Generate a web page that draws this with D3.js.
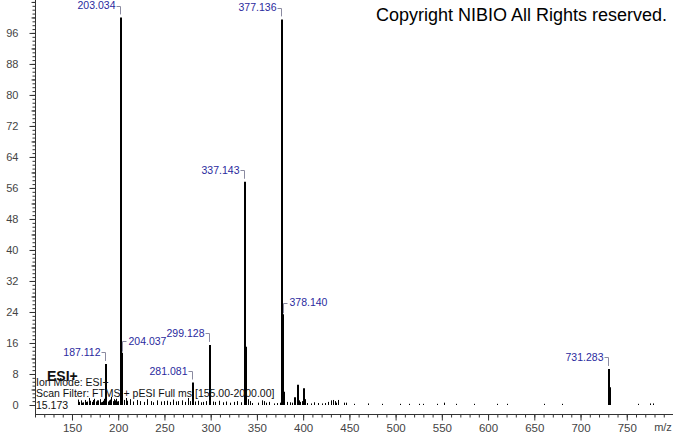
<!DOCTYPE html>
<html>
<head>
<meta charset="utf-8">
<script src="https://cdn.jsdelivr.net/npm/d3@7"></script>
<style>
  html, body { margin: 0; padding: 0; background: #fff; }
  svg { display: block; font-family: "Liberation Sans", Arial, sans-serif; }
</style>
</head>
<body>
<svg id="chart" width="673" height="433"></svg>
<script>
// ---- data ----
const peakMz   = [187.112, 203.034, 204.037, 281.081, 299.128, 337.143, 338.146, 377.136, 378.140, 379.14, 391.5, 394.1, 401.3, 731.283, 732.28];
const peakInt  = [10.6,    100,     13.5,    5.8,     15.5,    57.6,    15.0,    99.5,    23.4,    3.4,    2.0,   5.2,   4.3,   9.3,     4.6];
const labelMz   = [187.112, 203.034, 204.037, 281.081, 299.128, 337.143, 377.136, 378.140, 731.283];
const labelText = ["187.112", "203.034", "204.037", "281.081", "299.128", "337.143", "377.136", "378.140", "731.283"];
const labelSide = ["left", "left", "right", "left", "left", "left", "left", "right", "left"];
const noiseMz  = [156, 157, 158, 160, 161, 162, 164, 165, 166, 168, 169, 170, 172, 173, 174, 176, 177, 178, 180, 181, 182, 184, 185, 186, 189, 190, 191, 192, 194, 195, 196, 198, 199, 200, 206, 208, 210, 213, 216, 220, 224, 228, 231, 235, 238, 242, 246, 250, 253, 256, 259, 262, 265, 269, 272, 275, 278, 283, 286, 289, 292, 295, 302, 305, 309, 313, 317, 321, 325, 329, 333, 340, 343, 345, 351, 356, 358, 360, 363, 368, 372, 375, 383, 386, 388, 390, 395, 397, 399, 402, 404, 408, 412, 416, 420, 424, 427, 430, 432, 434, 436, 438, 444, 446, 455, 470, 485, 505, 515, 525, 530, 545, 552, 565, 585, 610, 620, 660, 680, 762, 775, 778];
const noiseInt = [1.0, 1.4, 0.8, 1.2, 0.6, 0.7, 1.3, 0.8, 0.9, 1.8, 1.0, 1.1, 0.8, 1.3, 1.6, 0.9, 1.2, 1.2, 1.5, 0.7, 0.8, 1.1, 1.6, 1.3, 0.9, 1.2, 1.4, 2.1, 1.0, 1.5, 1.2, 1.6, 0.9, 1.0, 1.3, 1.8, 1.1, 1.5, 0.9, 1.3, 1.0, 0.8, 1.5, 1.0, 0.7, 1.2, 0.9, 1.0, 1.1, 0.8, 1.4, 0.9, 1.0, 1.2, 0.8, 1.8, 1.0, 0.9, 1.1, 0.7, 0.8, 1.0, 0.9, 0.8, 1.1, 0.7, 0.9, 0.6, 0.8, 1.0, 0.7, 1.5, 1.0, 0.5, 0.6, 1.2, 1.0, 0.6, 0.8, 0.4, 0.5, 0.6, 0.8, 0.7, 0.6, 0.8, 1.2, 0.8, 1.0, 1.5, 0.5, 0.4, 0.7, 0.5, 0.4, 0.5, 0.8, 1.2, 1.3, 1.0, 0.6, 1.3, 0.6, 0.6, 0.3, 0.4, 0.3, 0.3, 0.3, 0.3, 0.3, 0.3, 0.6, 0.3, 0.3, 0.3, 0.3, 0.3, 0.3, 0.3, 0.4, 0.4];
const yTickLabels = [0, 8, 16, 24, 32, 40, 48, 56, 64, 72, 80, 88, 96];
const xTickLabels = [150, 200, 250, 300, 350, 400, 450, 500, 550, 600, 650, 700, 750];
const infoLines = ["Ion Mode: ESI+", "Scan Filter: FTMS + pESI Full ms [155.00-2000.00]", "15.173"];
const modeTitle = "ESI+";
const copyright = "Copyright NIBIO All Rights reserved.";
const xUnit = "m/z";

// ---- layout ----
const svg = d3.select("#chart");
const x = d3.scaleLinear().domain([110, 800]).range([35, 673]);
const y = d3.scaleLinear().domain([0, 104.5]).range([405, 0]);
const axisY = 414;
const axisColor = "#333";
const labelColor = "#2a2a9e";
const bracketColor = "#8a8aa0";

// y axis minor ticks
const yMinor = d3.axisLeft(y).tickValues(d3.range(0, 105, 1)).tickSize(3).tickFormat("");
svg.append("g").attr("transform", "translate(35.5,0)").call(yMinor)
  .call(g => g.select(".domain").remove())
  .call(g => g.selectAll("line").attr("stroke", axisColor));
const yMid = d3.axisLeft(y).tickValues(d3.range(0, 105, 4)).tickSize(4).tickFormat("");
svg.append("g").attr("transform", "translate(35.5,0)").call(yMid)
  .call(g => g.select(".domain").remove())
  .call(g => g.selectAll("line").attr("stroke", axisColor));
const yMajor = d3.axisLeft(y).tickValues(yTickLabels).tickSize(6).tickPadding(11);
svg.append("g").attr("transform", "translate(35.5,0)").call(yMajor)
  .call(g => g.select(".domain").remove())
  .call(g => g.selectAll("line").attr("stroke", axisColor))
  .call(g => g.selectAll("text").attr("fill", "#444").attr("font-size", "11px")
      .attr("font-family", "Liberation Sans, Arial, sans-serif"));
svg.append("line").attr("x1", 35.5).attr("x2", 35.5).attr("y1", 0).attr("y2", axisY + 0.5)
  .attr("stroke", axisColor);

// x axis
const xMinor = d3.axisBottom(x).tickValues(d3.range(110, 801, 10)).tickSize(3).tickFormat("");
svg.append("g").attr("transform", `translate(0,${axisY + 0.5})`).call(xMinor)
  .call(g => g.select(".domain").remove())
  .call(g => g.selectAll("line").attr("stroke", axisColor));
const xMajor = d3.axisBottom(x).tickValues(xTickLabels).tickSize(6).tickPadding(3);
svg.append("g").attr("transform", `translate(0,${axisY + 0.5})`).call(xMajor)
  .call(g => g.select(".domain").remove())
  .call(g => g.selectAll("line").attr("stroke", axisColor))
  .call(g => g.selectAll("text").attr("fill", "#444").attr("font-size", "11.5px")
      .attr("font-family", "Liberation Sans, Arial, sans-serif"));
svg.append("line").attr("x1", 35).attr("x2", 673).attr("y1", axisY + 0.5).attr("y2", axisY + 0.5)
  .attr("stroke", axisColor);
svg.append("text").attr("x", 663).attr("y", 431).attr("text-anchor", "middle")
  .attr("font-size", "11px").attr("fill", "#444").text(xUnit);

// noise sticks
svg.append("g").selectAll("line").data(noiseMz).join("line")
  .attr("x1", d => Math.round(x(d)) + 0.5).attr("x2", d => Math.round(x(d)) + 0.5)
  .attr("y1", y(0)).attr("y2", (d, i) => y(noiseInt[i]))
  .attr("stroke", "#000").attr("stroke-width", 1);

// main sticks
svg.append("g").selectAll("line").data(peakMz).join("line")
  .attr("x1", d => Math.round(x(d))).attr("x2", d => Math.round(x(d)))
  .attr("y1", y(0)).attr("y2", (d, i) => y(peakInt[i]))
  .attr("stroke", "#000").attr("stroke-width", 2);

// peak labels with brackets
const lab = svg.append("g");
labelMz.forEach((mz, i) => {
  const k = peakMz.indexOf(mz);
  const px = Math.round(x(mz)) - 0.5;
  const top = y(peakInt[k]);
  const ly = top - 11.5;
  if (labelSide[i] === "left") {
    lab.append("path")
      .attr("d", `M${px - 4},${Math.round(ly) + 0.5}H${px}V${top - 3}`)
      .attr("fill", "none").attr("stroke", bracketColor).attr("stroke-width", 1);
    lab.append("text").attr("x", px - 5).attr("y", ly + 3.5).attr("text-anchor", "end")
      .attr("font-size", "10.5px").attr("fill", labelColor).text(labelText[i]);
  } else {
    lab.append("path")
      .attr("d", `M${px + 1},${top - 1}V${Math.round(ly) + 0.5}H${px + 5}`)
      .attr("fill", "none").attr("stroke", bracketColor).attr("stroke-width", 1);
    lab.append("text").attr("x", px + 7).attr("y", ly + 3.5).attr("text-anchor", "start")
      .attr("font-size", "10.5px").attr("fill", labelColor).text(labelText[i]);
  }
});

// info text
svg.append("text").attr("x", 47).attr("y", 381).attr("font-size", "14px").attr("font-weight", "bold")
  .attr("fill", "#111").text(modeTitle);
const infoY = [386, 397, 409];
infoLines.forEach((t, i) => {
  svg.append("text").attr("x", 36).attr("y", infoY[i]).attr("font-size", "10.5px")
    .attr("fill", "#111").text(t);
});

// copyright
svg.append("text").attr("x", 376).attr("y", 21).attr("font-size", "18px")
  .attr("fill", "#000").text(copyright);
</script>
</body>
</html>
